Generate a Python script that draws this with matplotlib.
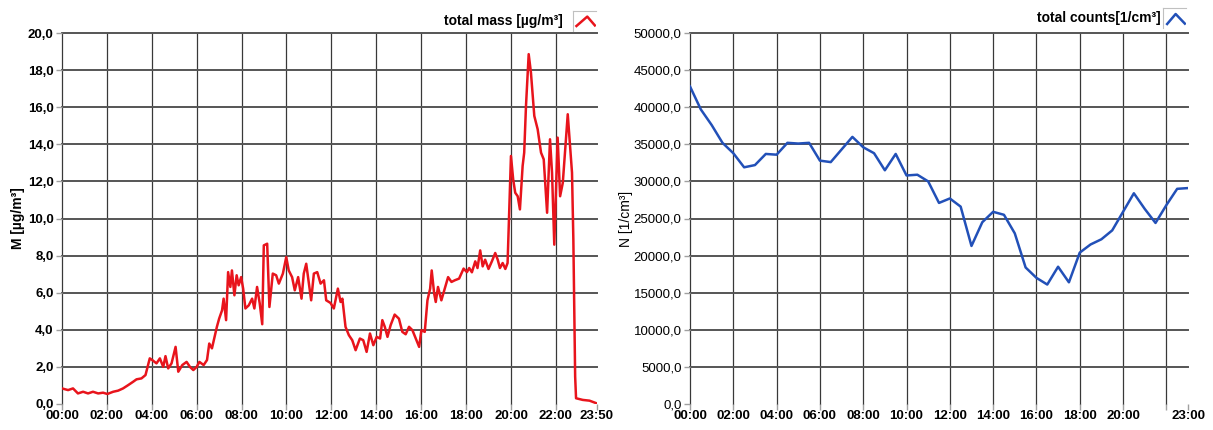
import matplotlib
matplotlib.use("Agg")
import matplotlib.pyplot as plt
from matplotlib.ticker import FuncFormatter

# total mass concentration over the day (hours since midnight, µg/m³)
mass_hours = [
    0.00, 0.27, 0.49, 0.71, 0.94, 1.16, 1.38, 1.61, 1.83, 2.02, 2.28, 2.50, 2.72, 2.95,
    3.17, 3.32, 3.54, 3.72, 3.91, 4.02, 4.21, 4.36, 4.51, 4.61, 4.73, 4.88, 5.06, 5.18,
    5.36, 5.55, 5.70, 5.85, 6.00, 6.12, 6.31, 6.46, 6.56, 6.68, 6.80, 6.90, 7.00, 7.13,
    7.20, 7.31, 7.40, 7.50, 7.57, 7.68, 7.78, 7.87, 7.98, 8.07, 8.17, 8.32, 8.47, 8.57,
    8.69, 8.81, 8.92, 8.99, 9.14, 9.24, 9.39, 9.54, 9.66, 9.84, 9.99, 10.10, 10.25, 10.37,
    10.52, 10.67, 10.77, 10.88, 11.00, 11.10, 11.22, 11.37, 11.52, 11.67, 11.77, 11.96,
    12.11, 12.29, 12.41, 12.49, 12.63, 12.78, 12.93, 13.08, 13.27, 13.42, 13.57, 13.72,
    13.87, 14.02, 14.17, 14.27, 14.38, 14.50, 14.64, 14.82, 15.01, 15.16, 15.31, 15.46,
    15.61, 15.76, 15.91, 16.01, 16.16, 16.28, 16.40, 16.47, 16.58, 16.65, 16.75, 16.90,
    17.05, 17.20, 17.35, 17.50, 17.69, 17.89, 18.04, 18.14, 18.26, 18.41, 18.51, 18.63,
    18.74, 18.85, 19.00, 19.15, 19.30, 19.41, 19.51, 19.63, 19.75, 19.85, 19.90, 20.00,
    20.10, 20.19, 20.30, 20.40, 20.52, 20.59, 20.67, 20.79, 20.89, 21.04, 21.19, 21.34,
    21.46, 21.61, 21.74, 21.83, 21.93, 22.08, 22.19, 22.31, 22.53, 22.72, 22.78, 22.86,
    22.90, 23.20, 23.50, 23.72, 23.83,
]
mass_values = [
    0.84, 0.75, 0.84, 0.57, 0.66, 0.57, 0.66, 0.57, 0.61, 0.54, 0.66, 0.72, 0.84, 1.02,
    1.20, 1.33, 1.38, 1.56, 2.46, 2.37, 2.19, 2.46, 2.00, 2.58, 1.92, 2.19, 3.08, 1.74,
    2.10, 2.27, 2.00, 1.83, 2.00, 2.27, 2.10, 2.37, 3.26, 3.00, 3.62, 4.16, 4.60, 5.05,
    5.68, 4.52, 7.11, 6.31, 7.20, 5.86, 6.94, 6.40, 6.84, 6.22, 5.15, 5.32, 5.68, 5.15,
    6.31, 5.41, 4.30, 8.55, 8.64, 5.23, 7.03, 6.94, 6.49, 7.03, 7.92, 7.20, 6.84, 6.13,
    6.84, 5.68, 7.03, 7.56, 6.49, 5.59, 7.03, 7.11, 6.49, 6.67, 5.59, 5.45,
    5.15, 6.22, 5.50, 5.68, 4.16, 3.71, 3.44, 2.90, 3.53, 3.44, 2.81, 3.80,
    3.17, 3.62, 3.53, 4.52, 4.16, 3.62, 4.25, 4.82, 4.60, 3.89, 3.76, 4.16,
    3.98, 3.53, 3.08, 3.98, 3.89, 5.59, 6.22, 7.20, 5.95, 5.50, 6.31, 5.59,
    6.22, 6.84, 6.58, 6.67, 6.76, 7.30, 7.11, 7.33, 7.10, 7.69, 7.33, 8.28,
    7.42, 7.78, 7.28, 7.69, 8.14, 7.78, 7.33, 7.60, 7.28, 7.60, 9.58, 13.37,
    12.10, 11.39, 11.20, 10.49, 12.83, 13.55, 16.07, 18.86, 17.87, 15.53, 14.81, 13.55,
    13.19, 10.31, 14.27, 12.47, 8.59, 14.36, 11.20, 11.93, 15.62, 12.47, 8.86, 1.48,
    0.31, 0.22, 0.18, 0.08, 0.03,
]

# total particle counts, half-hourly (hours since midnight, 1/cm³)
count_hours = [
    0.0, 0.5, 1.0, 1.5, 2.0, 2.5, 3.0, 3.5, 4.0, 4.5, 5.0, 5.5, 6.0, 6.5, 7.0, 7.5,
    8.0, 8.5, 9.0, 9.5, 10.0, 10.5, 11.0, 11.5, 12.0, 12.5, 13.0, 13.5, 14.0, 14.5,
    15.0, 15.5, 16.0, 16.5, 17.0, 17.5, 18.0, 18.5, 19.0, 19.5, 20.0, 20.5, 21.0,
    21.5, 22.0, 22.5, 23.0,
]
count_values = [
    42800, 39700, 37600, 35200, 33800, 31900, 32200, 33700, 33600, 35200, 35100, 35200,
    32800, 32600, 34300, 36000, 34600, 33800, 31500, 33700, 30800, 30900, 30000, 27100,
    27700, 26600, 21300, 24500, 25900, 25500, 23000, 18400, 17000, 16100, 18500, 16400,
    20400, 21500, 22200, 23400, 25900, 28400, 26300, 24400, 26800, 29000, 29100,
]

mass_ticks = [0, 2, 4, 6, 8, 10, 12, 14, 16, 18, 20, 22, 23 + 50 / 60]
mass_tick_labels = ["00:00", "02:00", "04:00", "06:00", "08:00", "10:00", "12:00",
                    "14:00", "16:00", "18:00", "20:00", "22:00", "23:50"]
count_ticks = [0, 2, 4, 6, 8, 10, 12, 14, 16, 18, 20, 22, 23]
count_tick_labels = ["00:00", "02:00", "04:00", "06:00", "08:00", "10:00", "12:00",
                     "14:00", "16:00", "18:00", "20:00", "", "23:00"]
mass_yticks = [0, 2, 4, 6, 8, 10, 12, 14, 16, 18, 20]
count_yticks = [0, 5000, 10000, 15000, 20000, 25000, 30000, 35000, 40000, 45000, 50000]

plt.rcParams['font.family'] = ['Liberation Sans', 'DejaVu Sans']

W, H = 1213, 430
fig = plt.figure(figsize=(W / 100, H / 100), dpi=100)


def comma(v, pos):
    return ("%.1f" % v).replace(".", ",")


def setup(ax, xmax, xticks, xlabels, yticks, ytick_weight):
    ax.set_xlim(0, xmax)
    ax.set_ylim(yticks[0], yticks[-1])
    ax.set_xticks(xticks)
    ax.set_xticklabels(xlabels, fontsize=9.5, fontweight='bold')
    ax.set_yticks(yticks)
    ax.yaxis.set_major_formatter(FuncFormatter(comma))
    for lab in ax.get_yticklabels():
        lab.set_fontsize(9.5)
        lab.set_fontweight(ytick_weight)
    for s in ax.spines.values():
        s.set_visible(False)
    ax.tick_params(axis='both', direction='out', length=4, width=1, color='#a0a0a0', pad=2)
    ax.tick_params(axis='x', pad=0.5)
    ax.grid(axis='x', color='#383838', lw=0.9)
    ax.grid(axis='y', color='#555555', lw=1.4)
    ax.set_axisbelow(True)
    # no gridline on the last time tick or along the zero line
    ax.get_xgridlines()[-1].set_visible(False)
    ax.get_ygridlines()[0].set_visible(False)
    for g in ax.get_xgridlines() + ax.get_ygridlines():
        g.set_clip_on(False)


def legend_icon(x0, y0, color, pts_x, pts_y):
    iax = fig.add_axes([x0 / W, 1 - (y0 + 20) / H, 23 / W, 20 / H])
    iax.plot(pts_x, pts_y, color=color, lw=1.8)
    iax.set_xlim(0, 1)
    iax.set_ylim(0, 1)
    iax.set_xticks([])
    iax.set_yticks([])
    for k, s in iax.spines.items():
        s.set_visible(k in ('top', 'left'))
        s.set_color('#c0c0c0')
    iax.patch.set_alpha(0)


# mass concentration
ax1 = fig.add_axes([62 / W, 26 / H, 535 / W, 371 / H])
ax1.plot(mass_hours, mass_values, color='#e8141c', lw=1.8)
setup(ax1, mass_ticks[-1], mass_ticks, mass_tick_labels, mass_yticks, 'bold')
ax1.set_ylabel("M [µg/m³]", fontsize=10, fontweight='bold')
ax1.yaxis.set_label_coords(-0.07, 0.5)
fig.text(563 / W, 1 - 21 / H, "total mass [µg/m³]", ha='right', va='center',
         fontsize=10, fontweight='bold')
legend_icon(573, 11, '#e8141c', [0.15, 0.62, 0.95], [0.25, 0.72, 0.28])

# particle counts
ax2 = fig.add_axes([690 / W, 26 / H, 498 / W, 371 / H])
ax2.plot(count_hours, count_values, color='#2250b8', lw=1.8)
setup(ax2, count_ticks[-1], count_ticks, count_tick_labels, count_yticks, 'normal')
ax2.set_ylabel("N [1/cm³]", fontsize=10)
ax2.yaxis.set_label_coords(-0.115, 0.5)
fig.text(1161 / W, 1 - 18 / H, "total counts[1/cm³]", ha='right', va='center',
         fontsize=10, fontweight='bold')
legend_icon(1163, 8, '#2250b8', [0.18, 0.55, 0.95], [0.2, 0.7, 0.22])

fig.savefig("out.png", dpi=100)
